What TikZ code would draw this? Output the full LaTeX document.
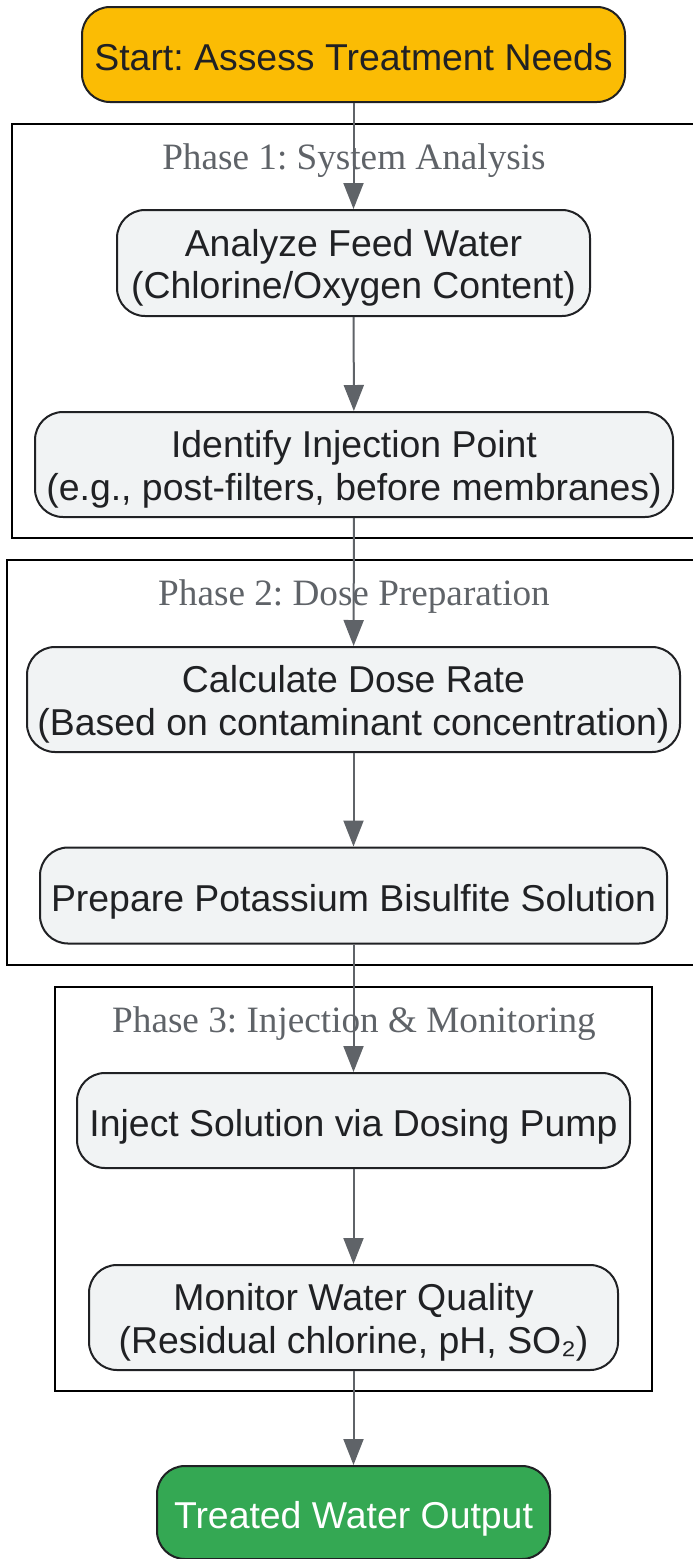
\documentclass[tikz,border=0pt]{standalone}
\usepackage{fontspec}
\setmainfont{Liberation Sans}
\newfontfamily\phasefont{Liberation Serif}
\usetikzlibrary{arrows.meta}
\frenchspacing
\definecolor{nodefill}{HTML}{F1F3F4}
\definecolor{nodeline}{HTML}{202124}
\definecolor{arrowgray}{HTML}{5F6368}
\definecolor{startfill}{HTML}{FBBC04}
\definecolor{endfill}{HTML}{34A853}
\definecolor{phasegray}{HTML}{5F6368}
% one line: baseline 15.7pt below the node centre
\newcommand{\oneline}[1]{\raisebox{-15.7pt}[0pt][0pt]{#1}}
% two lines: second baseline 35.5pt below the node centre
\newcommand{\twoline}[2]{\raisebox{-35.5pt}[0pt][0pt]{\begin{tabular}[b]{@{}c@{}}#1\\#2\end{tabular}}}
\tikzset{
  stepbox/.style={draw=nodeline, line width=2pt, fill=nodefill, rounded corners=28pt,
    text=nodeline, inner sep=0pt,
    font=\fontsize{37.4}{42.3}\selectfont},
  startbox/.style={stepbox, fill=startfill},
  endbox/.style={stepbox, fill=endfill, text=white},
  cluster/.style={draw=black, line width=2pt},
  phaselabel/.style={text=phasegray, font=\phasefont\fontsize{37.2}{42}\selectfont, inner sep=0pt},
  flow/.style={draw=arrowgray, line width=2pt, -{Triangle[width=20pt,length=26pt]}},
}
\begin{document}
\begin{tikzpicture}[x=1pt,y=-1pt]
\useasboundingbox (0,0) rectangle (693,1559);
% clusters
\draw[cluster] (12,124) rectangle (705,538);
\draw[cluster] (7,560) rectangle (705,965);
\draw[cluster] (55,987) rectangle (652,1391);
\node[phaselabel] (p1) at (354,161) {Phase 1: System Analysis};
\node[phaselabel] (p2) at (354,597) {Phase 2: Dose Preparation};
\node[phaselabel] (p3) at (354,1024) {Phase 3: Injection \& Monitoring};
% nodes
\node[startbox, minimum width=543pt, minimum height=95pt] (start) at (353.5,54.5) {\oneline{Start: Assess Treatment Needs}};
\node[stepbox, minimum width=473pt, minimum height=106pt] (analyze) at (353.5,263) {\twoline{Analyze Feed Water}{(Chlorine/Oxygen Content)}};
\node[stepbox, minimum width=638pt, minimum height=105pt] (identify) at (354,464.5) {\twoline{Identify Injection Point}{(e.g., post-filters, before membranes)}};
\node[stepbox, minimum width=653pt, minimum height=105pt] (calc) at (353.5,699.5) {\twoline{Calculate Dose Rate}{(Based on contaminant concentration)}};
\node[stepbox, minimum width=627pt, minimum height=96pt] (prepare) at (353.5,895.5) {\oneline{Prepare Potassium Bisulfite Solution}};
\node[stepbox, minimum width=553pt, minimum height=95pt] (inject) at (353.5,1120.5) {\oneline{Inject Solution via Dosing Pump}};
\node[stepbox, minimum width=529pt, minimum height=105pt] (monitor) at (353.5,1317.5) {\twoline{Monitor Water Quality}{(Residual chlorine, pH, SO₂)}};
\node[endbox, minimum width=393pt, minimum height=93pt] (treated) at (353.5,1512.5) {\oneline{Treated Water Output}};
% edges
\draw[flow] (start) -- (analyze);
\draw[flow] (analyze) -- (identify);
\draw[flow] (identify) -- (calc);
\draw[flow] (calc) -- (prepare);
\draw[flow] (prepare) -- (inject);
\draw[flow] (inject) -- (monitor);
\draw[flow] (monitor) -- (treated);
\end{tikzpicture}
\end{document}
